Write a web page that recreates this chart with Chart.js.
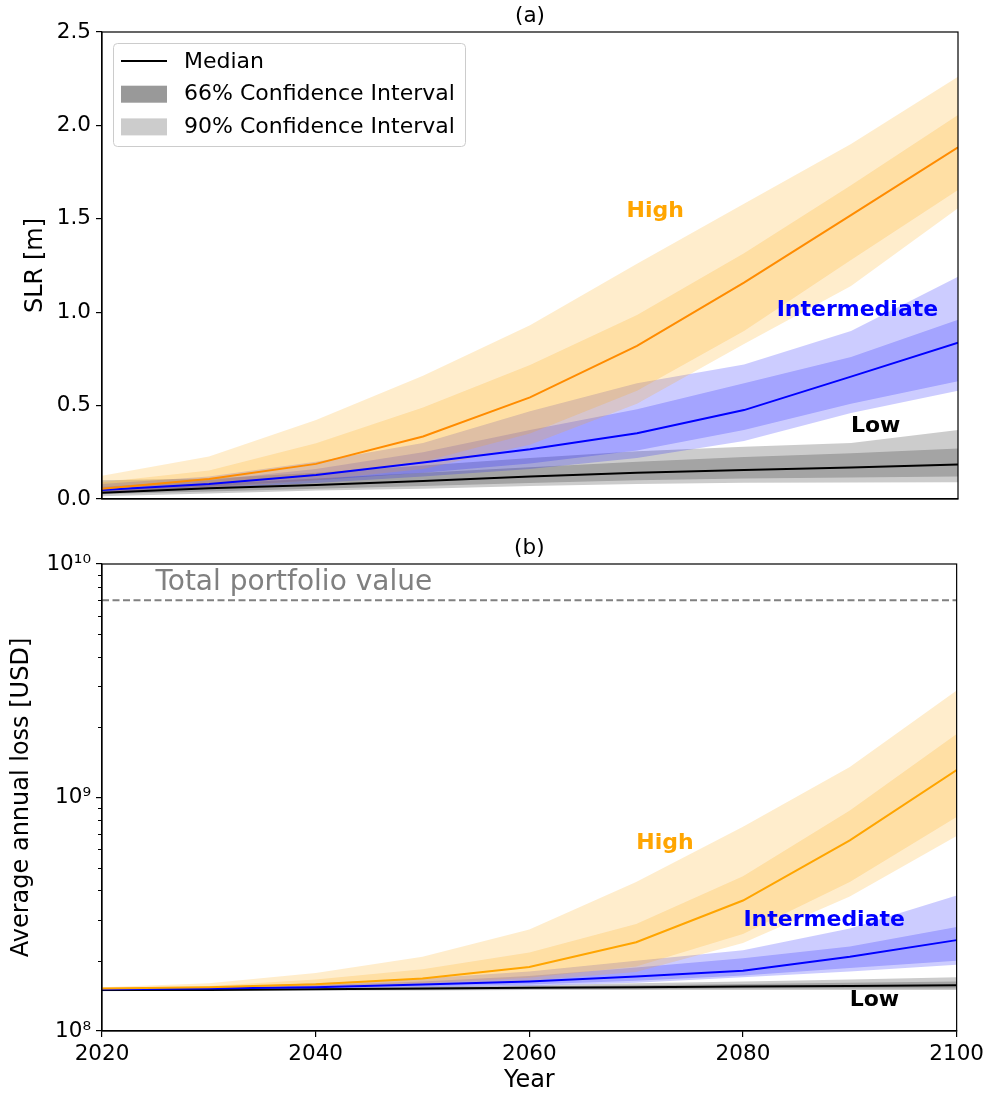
<!DOCTYPE html>
<html>
<head>
<meta charset="utf-8">
<script src="https://cdn.jsdelivr.net/npm/chart.js@4.4.1/dist/chart.umd.min.js"></script>
<style>
  body { margin: 0; background: #fff; }
  #wrap { position: relative; width: 989px; height: 1093px; }
  canvas { position: absolute; left: 0; }
</style>
</head>
<body>
<div id="wrap">
  <canvas id="slrChart" width="989" height="530" style="top:0;width:989px;height:530px"></canvas>
  <canvas id="lossChart" width="989" height="563" style="top:530px;width:989px;height:563px"></canvas>
</div>
<script>
// years on the x axis
const years = [2020, 2030, 2040, 2050, 2060, 2070, 2080, 2090, 2100];

// (a) sea level rise [m]
const slrLowMed  = [0.034, 0.057, 0.075, 0.097, 0.12, 0.14, 0.155, 0.168, 0.185];
const slrLow66lo = [0.025, 0.04, 0.055, 0.07, 0.085, 0.10, 0.11, 0.115, 0.12];
const slrLow66hi = [0.05, 0.08, 0.11, 0.14, 0.17, 0.20, 0.225, 0.245, 0.27];
const slrLow90lo = [0.015, 0.03, 0.045, 0.055, 0.07, 0.08, 0.087, 0.088, 0.09];
const slrLow90hi = [0.10, 0.11, 0.14, 0.18, 0.22, 0.255, 0.28, 0.30, 0.37];

const slrIntMed  = [0.048, 0.08, 0.128, 0.195, 0.266, 0.352, 0.476, 0.655, 0.837];
const slrInt66lo = [0.035, 0.065, 0.10, 0.14, 0.19, 0.26, 0.37, 0.51, 0.63];
const slrInt66hi = [0.065, 0.10, 0.16, 0.25, 0.37, 0.48, 0.62, 0.76, 0.96];
const slrInt90lo = [0.03, 0.055, 0.085, 0.12, 0.16, 0.22, 0.31, 0.46, 0.58];
const slrInt90hi = [0.08, 0.12, 0.20, 0.30, 0.47, 0.62, 0.72, 0.90, 1.19];

const slrHighMed  = [0.055, 0.107, 0.188, 0.335, 0.544, 0.82, 1.158, 1.52, 1.883];
const slrHigh66lo = [0.04, 0.075, 0.12, 0.20, 0.35, 0.58, 0.90, 1.28, 1.654];
const slrHigh66hi = [0.09, 0.152, 0.298, 0.49, 0.717, 0.985, 1.315, 1.68, 2.056];
const slrHigh90lo = [0.03, 0.06, 0.10, 0.16, 0.29, 0.51, 0.83, 1.14, 1.556];
const slrHigh90hi = [0.125, 0.227, 0.423, 0.66, 0.93, 1.26, 1.58, 1.90, 2.26];

// (b) average annual loss [USD]
const aalLowMed  = [1.50e8, 1.50e8, 1.51e8, 1.52e8, 1.53e8, 1.54e8, 1.55e8, 1.56e8, 1.57e8];
const aalLow66lo = [1.49e8, 1.49e8, 1.50e8, 1.50e8, 1.51e8, 1.51e8, 1.52e8, 1.52e8, 1.52e8];
const aalLow66hi = [1.50e8, 1.51e8, 1.52e8, 1.53e8, 1.55e8, 1.57e8, 1.59e8, 1.61e8, 1.63e8];
const aalLow90lo = [1.48e8, 1.49e8, 1.49e8, 1.49e8, 1.50e8, 1.50e8, 1.50e8, 1.50e8, 1.50e8];
const aalLow90hi = [1.51e8, 1.52e8, 1.53e8, 1.55e8, 1.57e8, 1.60e8, 1.63e8, 1.66e8, 1.70e8];

const aalIntMed  = [1.51e8, 1.52e8, 1.54e8, 1.58e8, 1.63e8, 1.71e8, 1.81e8, 2.08e8, 2.45e8];
const aalInt66lo = [1.50e8, 1.51e8, 1.53e8, 1.55e8, 1.58e8, 1.64e8, 1.73e8, 1.86e8, 2.00e8];
const aalInt66hi = [1.52e8, 1.53e8, 1.57e8, 1.63e8, 1.72e8, 1.87e8, 2.05e8, 2.30e8, 2.79e8];
const aalInt90lo = [1.50e8, 1.51e8, 1.52e8, 1.54e8, 1.56e8, 1.61e8, 1.70e8, 1.80e8, 1.92e8];
const aalInt90hi = [1.52e8, 1.54e8, 1.60e8, 1.68e8, 1.80e8, 2.00e8, 2.22e8, 2.75e8, 3.80e8];

const aalHighMed  = [1.52e8, 1.54e8, 1.585e8, 1.68e8, 1.88e8, 2.40e8, 3.62e8, 6.55e8, 1.31e9];
const aalHigh66lo = [1.51e8, 1.53e8, 1.55e8, 1.60e8, 1.69e8, 1.89e8, 2.60e8, 4.35e8, 8.25e8];
const aalHigh66hi = [1.53e8, 1.56e8, 1.66e8, 1.84e8, 2.17e8, 2.87e8, 4.60e8, 8.80e8, 1.87e9];
const aalHigh90lo = [1.50e8, 1.52e8, 1.54e8, 1.58e8, 1.64e8, 1.79e8, 2.38e8, 3.77e8, 6.84e8];
const aalHigh90hi = [1.54e8, 1.60e8, 1.77e8, 2.08e8, 2.72e8, 4.35e8, 7.50e8, 1.35e9, 2.87e9];

const portfolioValue = 7e9;

const FONT = '"DejaVu Sans", sans-serif';

function pts(arr) {
  return arr.map((v, i) => ({ x: years[i], y: v }));
}

// one scenario: 90% band, 66% band (each drawn at alpha 0.2 so they stack), median line
function scenario(med, lo66, hi66, lo90, hi90, rgb, lineColor, order) {
  const fillCol = 'rgba(' + rgb + ',0.2)';
  const edge = { borderWidth: 0, pointRadius: 0, borderColor: 'rgba(0,0,0,0)' };
  return {
    bands: [
      Object.assign({ data: pts(lo90), fill: false, order: order }, edge),
      Object.assign({ data: pts(hi90), fill: '-1', backgroundColor: fillCol, order: order }, edge),
      Object.assign({ data: pts(lo66), fill: false, order: order }, edge),
      Object.assign({ data: pts(hi66), fill: '-1', backgroundColor: fillCol, order: order }, edge)
    ],
    line: { data: pts(med), borderColor: lineColor, borderWidth: 2, pointRadius: 0, fill: false, order: 0 }
  };
}

function buildDatasets(groups) {
  let out = [];
  groups.forEach(g => { out = out.concat(g.bands); });
  groups.forEach(g => { out.push(g.line); });
  return out;
}

// text, frame and legend drawn on top of the plot
const decor = {
  id: 'decor',
  afterDraw(chart, args, o) {
    const ctx = chart.ctx, a = chart.chartArea;
    const xs = chart.scales.x, ys = chart.scales.y;
    ctx.save();
    ctx.strokeStyle = '#000';
    ctx.lineWidth = 1.2;
    ctx.strokeRect(a.left, a.top, a.right - a.left, a.bottom - a.top);

    ctx.fillStyle = '#000';
    ctx.textAlign = 'center';
    ctx.textBaseline = 'middle';
    ctx.font = '21.5px ' + FONT;
    ctx.fillText(o.title, (a.left + a.right) / 2, a.top - 16);

    ctx.font = '24px ' + FONT;
    ctx.save();
    ctx.translate(o.yTitleX, (a.top + a.bottom) / 2);
    ctx.rotate(-Math.PI / 2);
    ctx.fillText(o.yTitle, 0, 0);
    ctx.restore();
    if (o.xTitle) ctx.fillText(o.xTitle, (a.left + a.right) / 2, a.bottom + 50);

    ctx.font = 'bold 22px ' + FONT;
    o.labels.forEach(l => {
      ctx.fillStyle = l.color;
      ctx.fillText(l.text, xs.getPixelForValue(l.x), ys.getPixelForValue(l.y));
    });

    if (o.minorLog) {
      ctx.strokeStyle = '#000';
      ctx.lineWidth = 1;
      [1e8, 1e9].forEach(d => {
        for (let k = 2; k <= 9; k++) {
          const py = Math.round(ys.getPixelForValue(k * d)) + 0.5;
          ctx.beginPath();
          ctx.moveTo(a.left - 4, py);
          ctx.lineTo(a.left, py);
          ctx.stroke();
        }
      });
    }

    if (o.portfolio) {
      ctx.fillStyle = '#808080';
      ctx.font = '28px ' + FONT;
      ctx.textAlign = 'left';
      ctx.textBaseline = 'alphabetic';
      ctx.fillText('Total portfolio value', xs.getPixelForValue(2025), ys.getPixelForValue(portfolioValue) - 10);
    }

    if (o.legend) {
      const lx = a.left + 11, ly = a.top + 11, lw = 352, lh = 103;
      ctx.fillStyle = 'rgba(255,255,255,0.8)';
      ctx.strokeStyle = '#cccccc';
      ctx.lineWidth = 1;
      ctx.beginPath();
      ctx.roundRect(lx + 0.5, ly + 0.5, lw, lh, 4);
      ctx.fill();
      ctx.stroke();
      ctx.font = '22px ' + FONT;
      ctx.textAlign = 'left';
      ctx.textBaseline = 'middle';
      const rows = [
        { t: 'Median', kind: 'line' },
        { t: '66% Confidence Interval', kind: 'box', c: '#999999' },
        { t: '90% Confidence Interval', kind: 'box', c: '#cccccc' }
      ];
      rows.forEach((r, i) => {
        const cy = ly + 18 + i * 32.7;
        if (r.kind === 'line') {
          ctx.strokeStyle = '#000';
          ctx.lineWidth = 2;
          ctx.beginPath();
          ctx.moveTo(lx + 8, cy);
          ctx.lineTo(lx + 54, cy);
          ctx.stroke();
        } else {
          ctx.fillStyle = r.c;
          ctx.fillRect(lx + 8, cy - 8, 46, 17);
        }
        ctx.fillStyle = '#000';
        ctx.fillText(r.t, lx + 71, cy + 1);
      });
    }
    ctx.restore();
  }
};

function xAxis(showLabels, height) {
  return {
    type: 'linear', min: 2020, max: 2100,
    ticks: {
      stepSize: 20, display: showLabels, color: '#000', padding: 5, maxRotation: 0,
      font: { size: 21.5, family: FONT },
      callback: v => String(v)
    },
    grid: { drawOnChartArea: false, drawTicks: showLabels, tickLength: 6, color: '#000', lineWidth: 1.2 },
    border: { color: '#000', width: 1.2 },
    afterFit: s => { s.height = height; }
  };
}

// (a)
const slrGroups = [
  scenario(slrHighMed, slrHigh66lo, slrHigh66hi, slrHigh90lo, slrHigh90hi, '255,165,0', '#ff8c00', 1),
  scenario(slrIntMed, slrInt66lo, slrInt66hi, slrInt90lo, slrInt90hi, '0,0,255', '#0000ff', 2),
  scenario(slrLowMed, slrLow66lo, slrLow66hi, slrLow90lo, slrLow90hi, '0,0,0', '#000000', 3)
];

new Chart(document.getElementById('slrChart'), {
  type: 'line',
  data: { datasets: buildDatasets(slrGroups) },
  options: {
    responsive: false,
    animation: false,
    layout: { padding: { top: 32, right: 31, left: 0, bottom: 0 } },
    plugins: {
      legend: { display: false },
      tooltip: { enabled: false },
      decor: {
        title: '(a)', yTitle: 'SLR [m]', yTitleX: 36, legend: true,
        labels: [
          { text: 'High', x: 2071.7, y: 1.538, color: '#ffa500' },
          { text: 'Intermediate', x: 2090.6, y: 1.012, color: '#0000ff' },
          { text: 'Low', x: 2092.3, y: 0.387, color: '#000000' }
        ]
      }
    },
    scales: {
      x: xAxis(false, 31),
      y: {
        type: 'linear', min: 0, max: 2.5,
        ticks: { stepSize: 0.5, color: '#000', padding: 5, font: { size: 21.5, family: FONT }, callback: v => v.toFixed(1) },
        grid: { drawOnChartArea: false, tickLength: 6, color: '#000', lineWidth: 1.2 },
        border: { color: '#000', width: 1.2 },
        afterFit: s => { s.width = 102; }
      }
    }
  },
  plugins: [decor]
});

// (b)
const aalGroups = [
  scenario(aalHighMed, aalHigh66lo, aalHigh66hi, aalHigh90lo, aalHigh90hi, '255,165,0', '#ffa500', 1),
  scenario(aalIntMed, aalInt66lo, aalInt66hi, aalInt90lo, aalInt90hi, '0,0,255', '#0000ff', 2),
  scenario(aalLowMed, aalLow66lo, aalLow66hi, aalLow90lo, aalLow90hi, '0,0,0', '#000000', 3)
];
const aalSets = buildDatasets(aalGroups);
aalSets.push({
  data: [{ x: 2020, y: portfolioValue }, { x: 2100, y: portfolioValue }],
  borderColor: '#808080', borderWidth: 2, borderDash: [7, 3.5], pointRadius: 0, fill: false, order: 0
});

const supDigits = { '0': '\u2070', '1': '\u00b9', '8': '\u2078', '9': '\u2079' };

new Chart(document.getElementById('lossChart'), {
  type: 'line',
  data: { datasets: aalSets },
  options: {
    responsive: false,
    animation: false,
    layout: { padding: { top: 34, right: 31, left: 0, bottom: 0 } },
    plugins: {
      legend: { display: false },
      tooltip: { enabled: false },
      decor: {
        title: '(b)', yTitle: 'Average annual loss [USD]', yTitleX: 22, xTitle: 'Year',
        minorLog: true, portfolio: true,
        labels: [
          { text: 'High', x: 2072.7, y: 6.38e8, color: '#ffa500' },
          { text: 'Intermediate', x: 2087.6, y: 2.97e8, color: '#0000ff' },
          { text: 'Low', x: 2092.3, y: 1.36e8, color: '#000000' }
        ]
      }
    },
    scales: {
      x: xAxis(true, 62),
      y: {
        type: 'logarithmic', min: 1e8, max: 1e10,
        afterBuildTicks: s => { s.ticks = [1e8, 1e9, 1e10].map(v => ({ value: v })); },
        ticks: {
          color: '#000', padding: 5, font: { size: 21.5, family: FONT },
          callback: v => '10' + String(Math.round(Math.log10(v))).split('').map(c => supDigits[c]).join('')
        },
        grid: { drawOnChartArea: false, tickLength: 6, color: '#000', lineWidth: 1.2 },
        border: { color: '#000', width: 1.2 },
        afterFit: s => { s.width = 102; }
      }
    }
  },
  plugins: [decor]
});
</script>
</body>
</html>
